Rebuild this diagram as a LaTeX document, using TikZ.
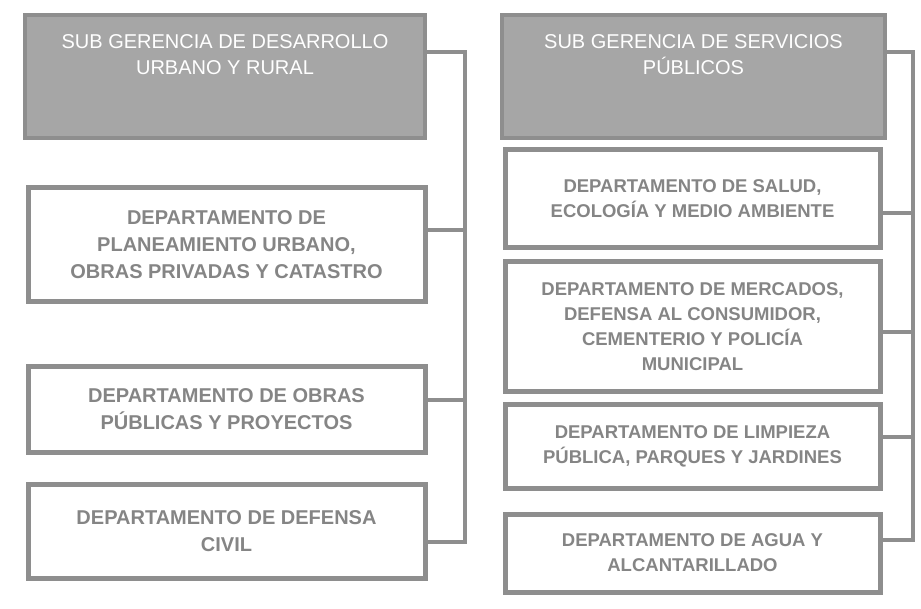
\documentclass[tikz,border=0pt]{standalone}
\usepackage{fontspec}
\setmainfont{Liberation Sans}
\usetikzlibrary{calc}
\definecolor{boxgray}{HTML}{8E8E8E}
\definecolor{fillgray}{HTML}{A6A6A6}
\definecolor{txtgray}{HTML}{858585}
\begin{document}
\begin{tikzpicture}[x=1pt,y=-1pt,
  headbox/.style={draw=boxgray,line width=4pt,fill=fillgray,minimum height=123pt,inner sep=0pt},
  deptbox/.style={draw=boxgray,line width=5pt,fill=white,inner sep=0pt,align=center,
     font=\fontsize{18.5}{25}\selectfont\bfseries,text=txtgray},
  leftdept/.style={deptbox,font=\fontsize{20}{27}\selectfont\bfseries},
  headtext/.style={align=center,font=\fontsize{20}{26}\selectfont,text=white,inner sep=0pt},
  bus/.style={draw=boxgray,line width=4pt}]
\useasboundingbox (0,0) rectangle (921,609);
% left column
\node[headbox,minimum width=400pt] (lh) at (225,76.5) {};
\node[headtext,anchor=north] (lht) at (225,34) {SUB GERENCIA DE DESARROLLO\\URBANO Y RURAL};
\node[leftdept,minimum width=397pt,minimum height=114pt] (l1) at (226.5,245) {DEPARTAMENTO DE\\PLANEAMIENTO URBANO,\\OBRAS PRIVADAS Y CATASTRO};
\node[leftdept,minimum width=397pt,minimum height=85pt] (l2) at (226.5,409.5) {DEPARTAMENTO DE OBRAS\\PÚBLICAS Y PROYECTOS};
\node[leftdept,minimum width=397pt,minimum height=94pt] (l3) at (226.5,531) {DEPARTAMENTO DE DEFENSA\\CIVIL};
% right column
\node[headbox,minimum width=383pt] (rh) at (693.5,76.5) {};
\node[headtext,anchor=north] (rht) at (693.5,34) {SUB GERENCIA DE SERVICIOS\\PÚBLICOS};
\node[deptbox,minimum width=375pt,minimum height=98pt] (r1) at (692.5,199) {DEPARTAMENTO DE SALUD,\\ECOLOGÍA Y MEDIO AMBIENTE};
\node[deptbox,minimum width=375pt,minimum height=130pt] (r2) at (692.5,327) {DEPARTAMENTO DE MERCADOS,\\DEFENSA AL CONSUMIDOR,\\CEMENTERIO Y POLICÍA\\MUNICIPAL};
\node[deptbox,minimum width=375pt,minimum height=83pt] (r3) at (692.5,446.5) {DEPARTAMENTO DE LIMPIEZA\\PÚBLICA, PARQUES Y JARDINES};
\node[deptbox,minimum width=375pt,minimum height=78pt] (r4) at (692.5,553) {DEPARTAMENTO DE AGUA Y\\ALCANTARILLADO};
% left bus
\coordinate (lbt) at (465,52);
\coordinate (lbb) at (465,542);
\draw[bus] (lh.east |- lbt) -- (lbt) -- (lbb) -- (l3.east |- lbb);
\draw[bus] (l1.east |- 0,230) -- (lbt |- 0,230);
\draw[bus] (l2.east |- 0,400) -- (lbt |- 0,400);
% right bus
\coordinate (rbt) at (913,52);
\coordinate (rbb) at (913,540);
\draw[bus] (rh.east |- rbt) -- (rbt) -- (rbb) -- (r4.east |- rbb);
\draw[bus] (r1.east |- 0,213) -- (rbt |- 0,213);
\draw[bus] (r2.east |- 0,332) -- (rbt |- 0,332);
\draw[bus] (r3.east |- 0,437) -- (rbt |- 0,437);
\end{tikzpicture}
\end{document}
